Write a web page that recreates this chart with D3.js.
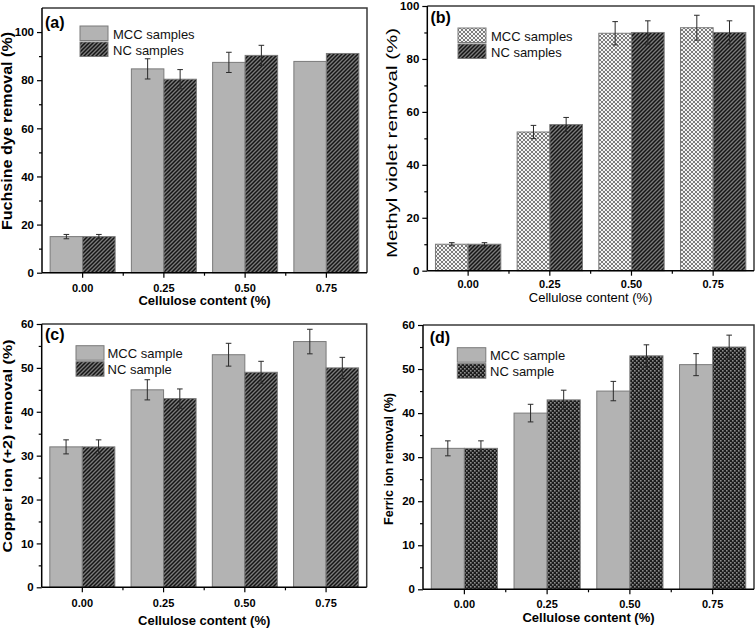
<!DOCTYPE html>
<html><head><meta charset="utf-8">
<script src="https://cdn.jsdelivr.net/npm/d3@7"></script>
<style>body{margin:0;background:#fff}svg{display:block}</style>
</head><body>
<script>
const categories = ["0.00","0.25","0.50","0.75"];
const seriesKeys = ["MCC","NC"];

const fuchsineMCC = [15, 84.7, 87.4, 87.8];
const fuchsineMCCErr = [0.9, 4.2, 4.2, null];
const fuchsineNC = [15, 80.4, 90.3, 91.1];
const fuchsineNCErr = [0.9, 4.0, 4.2, null];

const methylMCC = [10, 52.4, 89.7, 91.8];
const methylMCCErr = [0.6, 2.5, 4.4, 4.7];
const methylNC = [10, 55.2, 90.0, 90.0];
const methylNCErr = [0.6, 2.7, 4.4, 4.4];

const copperMCC = [32, 45, 53, 56];
const copperMCCErr = [1.6, 2.3, 2.6, 2.8];
const copperNC = [32, 43, 49, 50];
const copperNCErr = [1.6, 2.2, 2.5, 2.4];

const ferricMCC = [32, 40, 45, 51];
const ferricMCCErr = [1.7, 2.0, 2.2, 2.5];
const ferricNC = [32, 43, 53, 55];
const ferricNCErr = [1.7, 2.2, 2.5, 2.7];

const ticks110 = [0,20,40,60,80,100];
const minor110 = [10,30,50,70,90];
const ticks60 = [0,10,20,30,40,50,60];
const minor60 = [5,15,25,35,45,55];

const legendA = ["MCC samples","NC samples"];
const legendC = ["MCC sample","NC sample"];

const FONT = "'Liberation Sans', Arial, sans-serif";

const panels = [
  {id:"a", label:"(a)", mcc:fuchsineMCC, mccErr:fuchsineMCCErr, nc:fuchsineNC, ncErr:fuchsineNCErr,
   yMax:110, ticks:ticks110, minor:minor110, legend:legendA, mccFill:"url(#solid)", ncFill:"url(#hatch)",
   ytitle:"Fuchsine dye removal (%)", xtitle:"Cellulose content (%)", titleBold:true, xTitleBold:true,
   box:{l:42,r:367,t:8,b:272.7}, labelPos:[45,28],
   leg:{x:80,y:26,w:28,h:14.5,gap:1.5,tx:113},
   yt:{x:12,y:131,len:198,fs:14}, xt:{y:305}, xtick:{dy:19}},
  {id:"b", label:"(b)", mcc:methylMCC, mccErr:methylMCCErr, nc:methylNC, ncErr:methylNCErr,
   yMax:100, ticks:ticks110, minor:minor110, legend:legendA, mccFill:"url(#cross)", ncFill:"url(#hatch)",
   ytitle:"Methyl violet removal (%)", xtitle:"Cellulose content (%)", titleBold:false, xTitleBold:false,
   box:{l:427.3,r:754,t:6,b:270.7}, labelPos:[430.5,23],
   leg:{x:458,y:28,w:28,h:14.5,gap:1.5,tx:491},
   yt:{x:397,y:143,len:230,fs:14}, xt:{y:301.5}, xtick:{dy:17.5}},
  {id:"c", label:"(c)", mcc:copperMCC, mccErr:copperMCCErr, nc:copperNC, ncErr:copperNCErr,
   yMax:60, ticks:ticks60, minor:minor60, legend:legendC, mccFill:"url(#solid)", ncFill:"url(#hatch)",
   ytitle:"Copper ion (+2) removal (%)", xtitle:"Cellulose content (%)", titleBold:true, xTitleBold:true,
   box:{l:41.7,r:366.7,t:324,b:587.3}, labelPos:[45,340],
   leg:{x:76,y:345.7,w:28,h:14.5,gap:1.5,tx:107.5},
   yt:{x:12,y:446,len:213,fs:13.5}, xt:{y:625}, xtick:{dy:19.5}},
  {id:"d", label:"(d)", mcc:ferricMCC, mccErr:ferricMCCErr, nc:ferricNC, ncErr:ferricNCErr,
   yMax:60, ticks:ticks60, minor:minor60, legend:legendC, mccFill:"url(#solid)", ncFill:"url(#checks)",
   ytitle:"Ferric ion removal (%)", xtitle:"Cellulose content (%)", titleBold:true, xTitleBold:true,
   box:{l:423,r:754,t:325,b:589.3}, labelPos:[429.7,343],
   leg:{x:457.3,y:347.7,w:28.5,h:14.5,gap:1.5,tx:490},
   yt:{x:393,y:459,len:132,fs:13}, xt:{y:621.5}, xtick:{dy:18.5}}
];

const svg = d3.select("body").append("svg").attr("width",756).attr("height",631)
  .style("font-family", FONT);

const defs = svg.append("defs");
const pSolid = defs.append("pattern").attr("id","solid").attr("patternUnits","userSpaceOnUse")
  .attr("width",4).attr("height",4);
pSolid.append("rect").attr("width",4).attr("height",4).attr("fill","#b3b3b3");
const pHatch = defs.append("pattern").attr("id","hatch").attr("patternUnits","userSpaceOnUse")
  .attr("width",4).attr("height",4);
pHatch.append("rect").attr("width",4).attr("height",4).attr("fill","#7a7a7a");
pHatch.append("path").attr("d","M-1,1 L1,-1 M0,4 L4,0 M3,5 L5,3")
  .attr("stroke","#151515").attr("stroke-width",1.5);
const pCross = defs.append("pattern").attr("id","cross").attr("patternUnits","userSpaceOnUse")
  .attr("width",4).attr("height",4);
pCross.append("rect").attr("width",4).attr("height",4).attr("fill","#f4f4f4");
pCross.append("path").attr("d","M-1,1 L1,-1 M0,4 L4,0 M3,5 L5,3 M-1,3 L1,5 M0,0 L4,4 M3,-1 L5,1")
  .attr("stroke","#6e6e6e").attr("stroke-width",0.9);
const pChk = defs.append("pattern").attr("id","checks").attr("patternUnits","userSpaceOnUse")
  .attr("width",4).attr("height",4);
pChk.append("rect").attr("width",4).attr("height",4).attr("fill","#1c1c1c");
pChk.append("rect").attr("x",0).attr("y",0).attr("width",1.6).attr("height",1.6).attr("fill","#8c8c8c");
pChk.append("rect").attr("x",2).attr("y",2).attr("width",1.6).attr("height",1.6).attr("fill","#8c8c8c");

panels.forEach(p => {
  const g = svg.append("g");
  const B = p.box;
  const x = d3.scaleBand().domain(categories).range([B.l, B.r]).paddingInner(0.2).paddingOuter(0.1);
  const xs = d3.scaleBand().domain(seriesKeys).range([0, x.bandwidth()]);
  const y = d3.scaleLinear().domain([0, p.yMax]).range([B.b, B.t]);

  const rows = [];
  categories.forEach((c,i) => {
    rows.push({c, k:"MCC", v:p.mcc[i], e:p.mccErr[i], fill:p.mccFill});
    rows.push({c, k:"NC", v:p.nc[i], e:p.ncErr[i], fill:p.ncFill});
  });

  g.append("path")
    .attr("d", `M${B.l},${B.t}H${B.r}V${B.b}`)
    .attr("fill","none").attr("stroke","#3a3a3a").attr("stroke-width",1.5);

  g.selectAll("rect.bar").data(rows).join("rect").attr("class","bar")
    .attr("x", d => x(d.c) + xs(d.k))
    .attr("width", xs.bandwidth())
    .attr("y", d => y(d.v))
    .attr("height", d => y(0) - y(d.v))
    .attr("fill", d => d.fill)
    .attr("stroke","#7a7a7a").attr("stroke-width",1);

  const eb = rows.filter(d => d.e != null);
  const cap = 2.8;
  const cx = d => x(d.c)+xs(d.k)+xs.bandwidth()/2;
  const ebg = g.selectAll("g.err").data(eb).join("g").attr("class","err")
    .attr("stroke","#2a2a2a").attr("stroke-width",1);
  ebg.append("line").attr("x1", cx).attr("x2", cx)
    .attr("y1", d => y(d.v+d.e)).attr("y2", d => y(d.v-d.e));
  ebg.append("line").attr("x1", d => cx(d)-cap).attr("x2", d => cx(d)+cap)
    .attr("y1", d => y(d.v+d.e)).attr("y2", d => y(d.v+d.e));
  ebg.append("line").attr("x1", d => cx(d)-cap).attr("x2", d => cx(d)+cap)
    .attr("y1", d => y(d.v-d.e)).attr("y2", d => y(d.v-d.e));

  const ya = g.append("g").attr("transform",`translate(${B.l},0)`)
    .call(d3.axisLeft(y).tickValues(p.ticks).tickSize(5).tickPadding(3).tickFormat(d3.format("d")));
  ya.select(".domain").attr("stroke","#000").attr("stroke-width",1.5).attr("d",`M0,${B.t}V${B.b}`);
  ya.selectAll(".tick line").attr("stroke","#000").attr("stroke-width",1.2);
  ya.selectAll(".tick text").attr("font-family",FONT).attr("font-weight","bold").attr("font-size",11.5).attr("fill","#000");
  g.append("g").attr("transform",`translate(${B.l},0)`)
    .call(d3.axisLeft(y).tickValues(p.minor).tickSize(3).tickFormat(""))
    .call(s => { s.select(".domain").remove(); s.selectAll(".tick line").attr("stroke","#000").attr("stroke-width",1.2); });

  const xa = g.append("g").attr("transform",`translate(0,${B.b})`)
    .call(d3.axisBottom(x).tickSize(5).tickPadding(3).tickSizeOuter(0));
  xa.select(".domain").attr("stroke","#000").attr("stroke-width",1.5).attr("d",`M${B.l},0H${B.r}`);
  xa.selectAll(".tick line").attr("stroke","#000").attr("stroke-width",1.2);
  xa.selectAll(".tick text").attr("font-family",FONT).attr("font-weight","bold").attr("font-size",11)
    .attr("fill","#000").attr("dy",null).attr("y",p.xtick.dy);
  const bounds = categories.slice(1).map(c => x(c) - x.step()*x.paddingInner()/2);
  g.selectAll("line.minx").data(bounds).join("line").attr("class","minx")
    .attr("x1",d=>d).attr("x2",d=>d).attr("y1",B.b).attr("y2",B.b+3)
    .attr("stroke","#000").attr("stroke-width",1.2);

  g.append("text").attr("x",p.labelPos[0]).attr("y",p.labelPos[1])
    .attr("font-weight","bold").attr("font-size",16).text(p.label);

  const L = p.leg;
  [p.mccFill, p.ncFill].forEach((f,i) => {
    const yy = L.y + i*(L.h+L.gap);
    g.append("rect").attr("x",L.x).attr("y",yy).attr("width",L.w).attr("height",L.h)
      .attr("fill",f).attr("stroke","#7a7a7a").attr("stroke-width",1);
    g.append("text").attr("x",L.tx).attr("y",yy+L.h-2).attr("font-size",13).attr("fill","#111").text(p.legend[i]);
  });

  g.append("text").attr("transform",`translate(${p.yt.x},${p.yt.y}) rotate(-90)`)
    .attr("text-anchor","middle").attr("font-size",p.yt.fs)
    .attr("font-weight", p.titleBold ? "bold" : "normal")
    .attr("textLength",p.yt.len).attr("lengthAdjust","spacingAndGlyphs")
    .text(p.ytitle);
  g.append("text").attr("x",(B.l+B.r)/2).attr("y",p.xt.y)
    .attr("text-anchor","middle").attr("font-size",13)
    .attr("font-weight", p.xTitleBold ? "bold" : "normal")
    .text(p.xtitle);
});
</script>
</body></html>
